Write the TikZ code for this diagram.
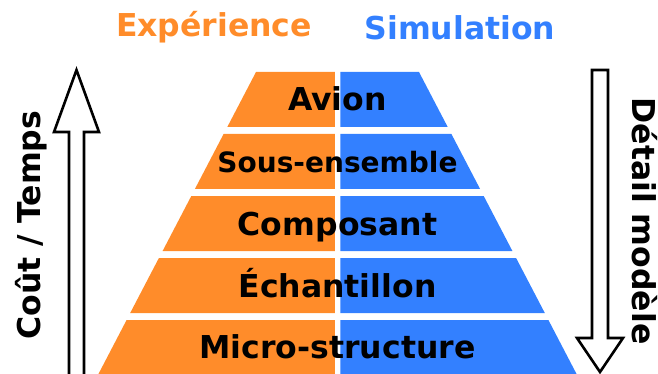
\documentclass[tikz,border=0pt]{standalone}
\usepackage{fontspec}
\setmainfont{DejaVu Sans}
\definecolor{exporange}{RGB}{255,140,42}
\definecolor{simblue}{RGB}{51,128,255}
\tikzset{
  lbl/.style={font=\bfseries\fontsize{31.5}{36}\selectfont, text=black, inner sep=0pt, anchor=base},
  lblsmall/.style={lbl, font=\bfseries\fontsize{28}{32}\selectfont},
  title/.style={font=\bfseries\fontsize{31.5}{36}\selectfont, inner sep=0pt, anchor=base},
  bigarrow/.style={draw=black, fill=white, line width=2.6pt, line join=miter},
}
\begin{document}
\begin{tikzpicture}[x=1pt,y=-1pt]
\useasboundingbox (0,0) rectangle (658,374);
% layers: top y, bottom y, top half-width, bottom half-width
\foreach \t/\b/\ht/\hb in {72/127/81.5/110.2, 134/189/113.9/142.6, 196/251/146.2/174.9, 258/313/178.6/207.3, 320/376/210.9/240.1}{
  \fill[exporange] (337.5-\ht,\t) -- (334.75,\t) -- (334.75,\b) -- (337.5-\hb,\b) -- cycle;
  \fill[simblue] (340.25,\t) -- (337.5+\ht,\t) -- (337.5+\hb,\b) -- (340.25,\b) -- cycle;
}
\node[lbl] (avion) at (337.5,111) {Avion};
\node[lblsmall] (sous) at (337.5,172) {Sous-ensemble};
\node[lbl] (comp) at (337.5,235) {Composant};
\node[lbl] (ech) at (337.5,297) {Échantillon};
\node[lbl] (micro) at (337.5,358) {Micro-structure};
% titles
\node[title, text=exporange] (exp) at (214,37) {Expérience};
\node[title, text=simblue] (sim) at (460,40) {Simulation};
% left arrow (up)
\draw[bigarrow] (76.5,70) -- (99,132) -- (84,132) -- (84,385) -- (69,385) -- (69,132) -- (54,132) -- cycle;
\node[title, rotate=90, anchor=base] (cout) at (40,225) {Coût / Temps};
% right arrow (down)
\draw[bigarrow] (600,372) -- (623,338) -- (608,338) -- (608,70) -- (592,70) -- (592,338) -- (577,338) -- cycle;
\node[title, rotate=-90, anchor=base] (detail) at (632,221) {Détail modèle};
\end{tikzpicture}
\end{document}
